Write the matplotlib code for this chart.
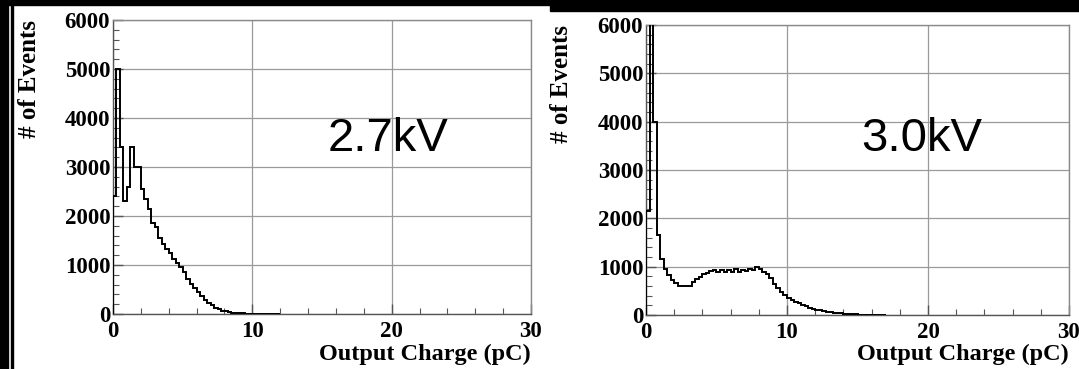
import numpy as np
import matplotlib.pyplot as plt
from matplotlib.patches import Rectangle
from matplotlib.ticker import MultipleLocator

# 电荷分布直方图 (bin 宽 0.25 pC)
bin_width = 0.25
counts_27kv = [2400, 5000, 3400, 2300, 2600, 3400, 3000, 3000, 2550, 2350,
               2150, 1850, 1770, 1560, 1420, 1330, 1240, 1120, 1040, 950,
               860, 720, 620, 530, 440, 360, 290, 230, 180, 130,
               95, 70, 55, 45, 30, 20, 15, 12, 10, 10,
               8, 6, 5, 4, 3, 3, 2, 2]
counts_30kv = [2150, 9000, 4000, 1650, 1150, 950, 820, 720, 660, 610,
               590, 590, 610, 680, 740, 790, 840, 870, 910, 930,
               900, 940, 890, 930, 900, 950, 880, 940, 910, 960,
               930, 990, 950, 900, 840, 760, 650, 550, 470, 410,
               360, 310, 270, 240, 210, 180, 150, 130, 110, 95,
               80, 68, 55, 45, 38, 32, 26, 21, 17, 13,
               10, 8, 6, 4, 3, 2, 1, 1]
labels = ['2.7kV', '3.0kV']
label_pos = [(15.43, 3327), (15.25, 3393)]

x_ticks = [0, 10, 20, 30]
y_ticks = [0, 1000, 2000, 3000, 4000, 5000, 6000]

serif = 'Liberation Serif'

fig = plt.figure(figsize=(10.79, 3.69), dpi=100)
fig.patch.set_facecolor('white')

ax1 = fig.add_axes([113 / 1079, 55 / 369, 418 / 1079, 294 / 369])
ax2 = fig.add_axes([646 / 1079, 54 / 369, 423 / 1079, 290 / 369])

for ax, counts, lab, pos in zip([ax1, ax2], [counts_27kv, counts_30kv], labels, label_pos):
    edges = np.arange(len(counts) + 1) * bin_width
    ax.stairs(counts, edges, baseline=0, color='black', lw=1.4, zorder=3)
    ax.set_xlim(0, 30)
    ax.set_ylim(0, 6000)
    ax.set_xticks(x_ticks)
    ax.set_yticks(y_ticks)
    ax.xaxis.set_minor_locator(MultipleLocator(2))
    ax.yaxis.set_minor_locator(MultipleLocator(200))
    ax.grid(True, which='major', color='#9a9a9a', lw=0.9)
    ax.set_axisbelow(True)
    for sp in ax.spines.values():
        sp.set_color('#8a8a8a')
        sp.set_linewidth(1.0)
    ax.spines['bottom'].set_color('#555555')
    ax.spines['left'].set_color('#555555')
    ax.tick_params(which='both', direction='in', color='#555555', top=False, right=False)
    ax.tick_params(which='major', length=7, width=1)
    ax.tick_params(which='minor', length=4, width=0.8)
    ax.tick_params(axis='x', pad=5)
    ax.tick_params(axis='y', pad=2)
    for t in ax.get_xticklabels() + ax.get_yticklabels():
        t.set_fontfamily(serif)
        t.set_fontweight('bold')
        t.set_fontsize(16.5)
    ax.set_xlabel('Output Charge (pC)', loc='right', fontfamily=serif,
                  fontweight='bold', fontsize=17.5)
    ax.set_ylabel('# of Events', loc='top', fontfamily=serif,
                  fontweight='bold', fontsize=18)
    ax.xaxis.set_label_coords(1.0, -0.1)
    ax.yaxis.set_label_coords(-0.172, 1.0)
    ax.text(pos[0], pos[1], lab, fontfamily='Liberation Sans', fontsize=34,
            va='baseline', ha='left', zorder=4)

# 黑色边框
fig.patches.append(Rectangle((0, 0), 8 / 1079, 1, transform=fig.transFigure,
                             color='black', zorder=10))
fig.patches.append(Rectangle((11 / 1079, 0), 2 / 1079, 1, transform=fig.transFigure,
                             color='black', zorder=10))
fig.patches.append(Rectangle((0, 1 - 5 / 369), 1, 5 / 369, transform=fig.transFigure,
                             color='black', zorder=10))
fig.patches.append(Rectangle((550 / 1079, 1 - 11 / 369), 1, 11 / 369,
                             transform=fig.transFigure, color='black', zorder=10))

fig.savefig('out.png', dpi=100)
